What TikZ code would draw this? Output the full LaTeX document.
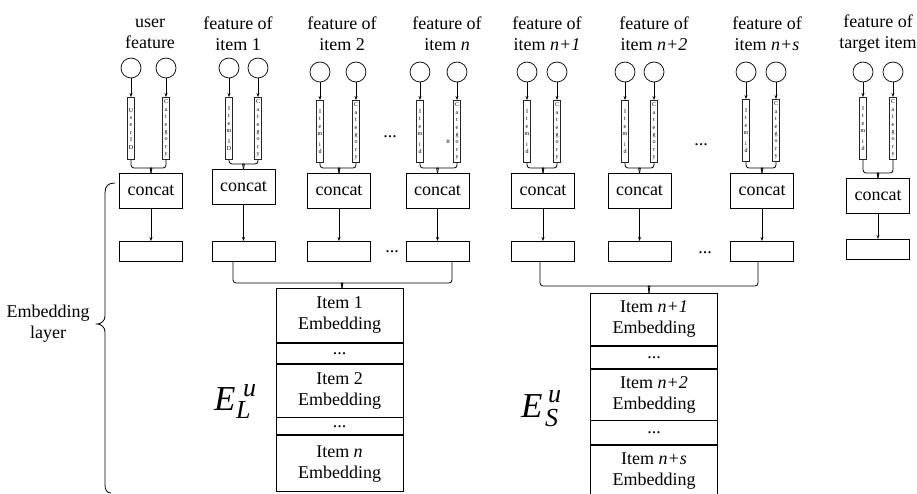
\documentclass[tikz,border=0pt]{standalone}
\usepackage{fontspec}
\setmainfont{Liberation Serif}
\usetikzlibrary{calc,arrows.meta}

\tikzset{
  lbl/.style={font=\fontsize{18bp}{21bp}\selectfont, align=center, inner sep=0},
  feat/.style={circle, draw, line width=0.7bp, minimum size=20bp, inner sep=0},
  bar/.style={draw=black!85, line width=1.1bp, fill=white, minimum width=7.5bp,
    minimum height=62bp, inner sep=0, anchor=north, align=center,
    font=\fontsize{6bp}{7.4bp}\selectfont},
  box/.style={draw, line width=0.8bp, minimum width=63bp, minimum height=35bp,
    inner sep=0, anchor=north, font=\fontsize{18bp}{21bp}\selectfont},
  outbox/.style={draw, line width=0.8bp, minimum width=63bp, minimum height=20bp,
    inner sep=0, anchor=north},
  arr/.style={-{Stealth[length=4bp,width=3bp]}, line width=0.6bp},
  link/.style={line width=0.8bp, rounded corners=3bp},
  cell/.style={draw, line width=0.8bp, minimum width=127bp, inner sep=0,
    anchor=north, align=center, font=\fontsize{18bp}{21bp}\selectfont},
  bigE/.style={inner sep=0, anchor=base west, font=\fontsize{35bp}{35bp}\selectfont\itshape},
  scr/.style={inner sep=0, anchor=base west, font=\fontsize{26bp}{26bp}\selectfont\itshape},
}

% brace-like join of two legs into one tip
\newcommand\joinup[4]{%
  \draw[link] (#1) |- ($(#3)+(-3,-#4)$) .. controls ($(#3)+(-1,-#4)$) .. (#3);
  \draw[link] (#2) |- ($(#3)+(3,-#4)$) .. controls ($(#3)+(1,-#4)$) .. (#3);
}

% one feature group: title, two inputs, two vertical fields
% #1 prefix, #2 title, #3 title x, #4 left x, #5 right x, #6 circle y,
% #7 field top y, #8 left field text, #9 right field text
\newcommand\fgroup[9]{%
  \node[lbl] (#1t) at (#3,34) {#2};
  \node[feat] (#1ca) at (#4,#6) {};
  \node[feat] (#1cb) at (#5,#6) {};
  \node[bar] (#1ba) at (#4,#7) {#8};
  \node[bar] (#1bb) at (#5,#7) {#9};
  \draw[arr] (#1ca) -- (#1ba);
  \draw[arr] (#1cb) -- (#1bb);
}

% concat box and its output
% #1 prefix, #2 x, #3 concat top, #4 output top, #5 join depth
\newcommand\cgroup[5]{%
  \node[box] (#1k) at (#2,#3) {concat};
  \node[outbox] (#1o) at (#2,#4) {};
  \draw[arr] (#1k) -- (#1o);
  \joinup{#1ba.south}{#1bb.south}{#1k.north}{#5}
}

\newcommand\cattxt{C\\a\\t\\e\\g\\o\\r\\y}
\newcommand\itemtxt{I\\t\\e\\m\\[3bp]i\\d}

\begin{document}
\begin{tikzpicture}[x=1bp,y=-1bp]
\useasboundingbox (0,0) rectangle (917,494);

\fgroup{g1}{user\\feature}{150}{131}{166}{68}{97}{U\\s\\e\\r\\I\\D}{\cattxt}
\fgroup{g2}{feature of\\item 1}{238}{229}{258}{68}{97}{I\\t\\e\\m\\[3bp]I\\D}{\cattxt}
\fgroup{g3}{feature of\\item 2}{342}{320}{356}{72}{100}{\itemtxt}{\cattxt}
\fgroup{g4}{feature of\\item \textit{n}}{447}{420}{457}{72}{100}{\itemtxt}{\cattxt}
\fgroup{g5}{feature of\\item \textit{n+1}}{547}{527}{557}{72}{100}{\itemtxt}{\cattxt}
\fgroup{g6}{feature of\\item \textit{n+2}}{654}{625}{654}{72}{100}{\itemtxt}{\cattxt}
\fgroup{g7}{feature of\\item \textit{n+s}}{767}{746}{776}{72}{99}{\itemtxt}{\cattxt}
\fgroup{g8}{feature of\\target item}{878}{863}{893}{72}{97}{\itemtxt}{\cattxt}

\cgroup{g1}{151}{173}{241}{5}
\cgroup{g2}{243.5}{169}{241}{5}
\cgroup{g3}{339}{173}{241}{5}
\cgroup{g4}{437.5}{173}{241}{5}
\cgroup{g5}{543}{173}{241}{5}
\cgroup{g6}{639.5}{173}{241}{5}
\cgroup{g7}{762}{173}{241}{5}
\cgroup{g8}{878}{178}{239}{5}

% ellipses between groups
\node[lbl] (d1) at (390,137) {...};
\node[lbl] (d2) at (701,145) {...};
\node[lbl] (d3) at (392,252) {...};
\node[lbl] (d4) at (705,253) {...};
\node[font=\fontsize{7bp}{8bp}\selectfont, inner sep=0] (stray) at (448,142) {n};

% long-term item embedding stack
\node[cell, minimum height=54bp] (L1) at (339.5,288) {Item 1\\Embedding};
\node[cell, minimum height=20bp] (L2) at (L1.south) {...};
\node[cell, minimum height=53bp] (L3) at (L2.south) {Item 2\\Embedding};
\node[cell, minimum height=17bp] (L4) at (L3.south) {...};
\node[cell, minimum height=56bp] (L5) at (L4.south) {Item \textit{n}\\Embedding};

% short-term item embedding stack
\node[cell, minimum height=52bp] (S1) at (654,293) {Item \textit{n+1}\\Embedding};
\node[cell, minimum height=22bp] (S2) at (S1.south) {...};
\node[cell, minimum height=51bp] (S3) at (S2.south) {Item \textit{n+2}\\Embedding};
\node[cell, minimum height=24bp] (S4) at (S3.south) {...};
\node[cell, minimum height=50bp] (S5) at (S4.south) {Item \textit{n+s}\\Embedding};

\joinup{$(g2o.south)+(-10.5,0)$}{$(g4o.south)+(14.5,0)$}{$(L1.north)+(2.5,0)$}{5}
\joinup{$(g5o.south)+(-3,0)$}{$(g7o.south)+(-4,0)$}{$(S1.north)+(-5,0)$}{7}

% stack labels E_L^u and E_S^u
\node[bigE] (ELe) at (214,410) {E};
\node[scr] (ELu) at (243,396) {u};
\node[scr] (ELl) at (236,418) {L};
\node[bigE] (ESe) at (521,417) {E};
\node[scr] (ESu) at (548,402) {u};
\node[scr] (ESs) at (545,426) {S};

% embedding layer brace
\draw[line width=0.8bp] (115,183) .. controls (108,183) and (105,186) .. (105,193)
  -- (105,316) .. controls (105,321) and (101,324) .. (97,324)
  .. controls (101,324) and (105,327) .. (105,332)
  -- (105,485) .. controls (105,490) and (107,493) .. (111,493);
\node[lbl] (emb) at (48,324) {Embedding\\layer};
\end{tikzpicture}
\end{document}
